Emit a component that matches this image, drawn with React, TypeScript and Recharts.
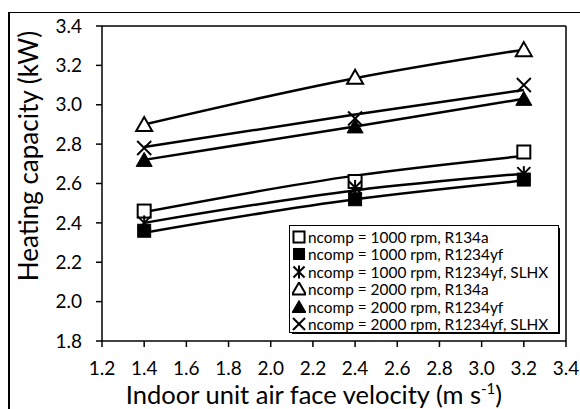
import { ComposedChart, Line, ReferenceLine, Scatter, XAxis, YAxis } from "recharts";

const xTicks = [1.2, 1.4, 1.6, 1.8, 2.0, 2.2, 2.4, 2.6, 2.8, 3.0, 3.2, 3.4];
const yTicks = [1.8, 2.0, 2.2, 2.4, 2.6, 2.8, 3.0, 3.2, 3.4];
const velocity = [1.4, 2.4, 3.2];

// measured points
const r134a1000 = [2.46, 2.61, 2.76];
const r1234yf1000 = [2.36, 2.52, 2.62];
const slhx1000 = [2.4, 2.58, 2.65];
const r134a2000 = [2.9, 3.14, 3.28];
const r1234yf2000 = [2.72, 2.89, 3.03];
const slhx2000 = [2.78, 2.93, 3.1];

// trend lines
const r134a1000Fit = [2.455, 2.64, 2.74];
const r1234yf1000Fit = [2.35, 2.52, 2.615];
const slhx1000Fit = [2.4, 2.565, 2.65];
const r134a2000Fit = [2.9, 3.135, 3.28];
const r1234yf2000Fit = [2.72, 2.89, 3.03];
const slhx2000Fit = [2.785, 2.95, 3.075];

type Kind = "sqOpen" | "sqFill" | "star" | "triOpen" | "triFill" | "cross";

const series: { name: string; kind: Kind; values: number[]; fit: number[] }[] = [
  { name: "ncomp = 1000 rpm, R134a", kind: "sqOpen", values: r134a1000, fit: r134a1000Fit },
  { name: "ncomp = 1000 rpm, R1234yf", kind: "sqFill", values: r1234yf1000, fit: r1234yf1000Fit },
  { name: "ncomp = 1000 rpm, R1234yf, SLHX", kind: "star", values: slhx1000, fit: slhx1000Fit },
  { name: "ncomp = 2000 rpm, R134a", kind: "triOpen", values: r134a2000, fit: r134a2000Fit },
  { name: "ncomp = 2000 rpm, R1234yf", kind: "triFill", values: r1234yf2000, fit: r1234yf2000Fit },
  { name: "ncomp = 2000 rpm, R1234yf, SLHX", kind: "cross", values: slhx2000, fit: slhx2000Fit },
];

const toRows = (vals: number[]) => velocity.map((x, i) => ({ x, y: vals[i] }));

function Marker({ kind, cx, cy, s = 1 }: { kind: Kind; cx: number; cy: number; s?: number }) {
  const h = 6.5 * s;
  switch (kind) {
    case "sqOpen":
      return <rect x={cx - h} y={cy - h} width={h * 2} height={h * 2} fill="#fff" stroke="#000" strokeWidth={2} />;
    case "sqFill":
      return <rect x={cx - h} y={cy - h} width={h * 2} height={h * 2} fill="#000" stroke="#000" strokeWidth={1} />;
    case "star":
      return (
        <g stroke="#000" strokeWidth={2}>
          <line x1={cx - h} y1={cy - h} x2={cx + h} y2={cy + h} />
          <line x1={cx - h} y1={cy + h} x2={cx + h} y2={cy - h} />
          <line x1={cx} y1={cy - h - 1} x2={cx} y2={cy + h + 1} />
        </g>
      );
    case "triOpen":
      return <path d={`M${cx},${cy - h - 1} L${cx + h + 1.5},${cy + h} L${cx - h - 1.5},${cy + h} Z`} fill="#fff" stroke="#000" strokeWidth={2} />;
    case "triFill":
      return <path d={`M${cx},${cy - h - 1} L${cx + h + 1.5},${cy + h} L${cx - h - 1.5},${cy + h} Z`} fill="#000" stroke="#000" strokeWidth={1} />;
    case "cross":
      return (
        <g stroke="#000" strokeWidth={2}>
          <line x1={cx - h - 0.5} y1={cy - h - 0.5} x2={cx + h + 0.5} y2={cy + h + 0.5} />
          <line x1={cx - h - 0.5} y1={cy + h + 0.5} x2={cx + h + 0.5} y2={cy - h - 0.5} />
        </g>
      );
  }
}

function LegendBox() {
  return (
    <div style={{ position: "absolute", left: 289, top: 225, width: 272, height: 112 }}>
      <div style={{ position: "absolute", left: 3, top: 3, width: 266, height: 104, border: "1.5px solid #000", background: "#fff" }} />
      <div style={{ position: "absolute", left: 0, top: 0, width: 266, height: 104, border: "1.5px solid #000", background: "#fff", padding: "2px 0 0 2px", boxSizing: "content-box" }}>
        {series.map((s) => (
          <div key={s.name} style={{ display: "flex", alignItems: "center", height: 17.5, fontFamily: "Lato, sans-serif", fontSize: 15.4, color: "#000", whiteSpace: "nowrap" }}>
            <svg width={14} height={14} style={{ marginRight: 2, flex: "none" }}>
              <Marker kind={s.kind} cx={7} cy={7} s={0.85} />
            </svg>
            {s.name}
          </div>
        ))}
      </div>
    </div>
  );
}

export default function App() {
  return (
    <div style={{ position: "absolute", left: 0, top: 0, width: 580, height: 409, background: "#fff", overflow: "hidden" }}>
      <div style={{ position: "absolute", left: 8, top: 12, width: 600, height: 420, borderLeft: "2px solid #000", borderTop: "1.5px solid #000" }} />
      <ComposedChart width={580} height={409} margin={{ top: 26, right: 14, bottom: 0, left: 0 }} style={{ position: "absolute", left: 0, top: 0 }}>
        <XAxis
          dataKey="x"
          type="number"
          domain={[1.2, 3.4]}
          ticks={xTicks}
          interval={0}
          tickFormatter={(v: number) => v.toFixed(1)}
          height={68}
          tickSize={6}
          tickMargin={15}
          stroke="#000"
          strokeWidth={1.5}
          tick={{ fill: "#000", fontSize: 19, fontFamily: "Lato, sans-serif" }}
          allowDataOverflow
          label={{
            content: () => (
              <text x={314} y={404} textAnchor="middle" fontFamily="Lato, sans-serif" fontSize={25.5} fill="#000">
                Indoor unit air face velocity (m s
                <tspan dy={-10} fontSize={15}>-1</tspan>
                <tspan dy={10}>)</tspan>
              </text>
            ),
          }}
        />
        <YAxis
          dataKey="y"
          type="number"
          domain={[1.8, 3.4]}
          ticks={yTicks}
          interval={0}
          tickFormatter={(v: number) => v.toFixed(1)}
          width={102}
          tickSize={6}
          tickMargin={14}
          stroke="#000"
          strokeWidth={1.5}
          tick={{ fill: "#000", fontSize: 19, fontFamily: "Lato, sans-serif" }}
          allowDataOverflow
          label={{
            content: () => (
              <text x={38} y={156} textAnchor="middle" transform="rotate(-90, 38, 156)" fontFamily="Lato, sans-serif" fontSize={26} fill="#000">
                Heating capacity (kW)
              </text>
            ),
          }}
        />
        <ReferenceLine y={3.4} stroke="#000" strokeWidth={1.5} />
        <ReferenceLine x={3.4} stroke="#000" strokeWidth={1.5} />
        {series.map((s) => (
          <Scatter
            key={s.name}
            name={s.name}
            data={toRows(s.values)}
            isAnimationActive={false}
            shape={(p: any) => <Marker kind={s.kind} cx={p.cx} cy={p.cy} />}
          />
        ))}
        {series.map((s) => (
          <Line
            key={s.name + "-fit"}
            data={toRows(s.fit)}
            dataKey="y"
            type="monotone"
            stroke="#000"
            strokeWidth={2.5}
            dot={false}
            legendType="none"
            isAnimationActive={false}
          />
        ))}
      </ComposedChart>
      <LegendBox />
    </div>
  );
}
